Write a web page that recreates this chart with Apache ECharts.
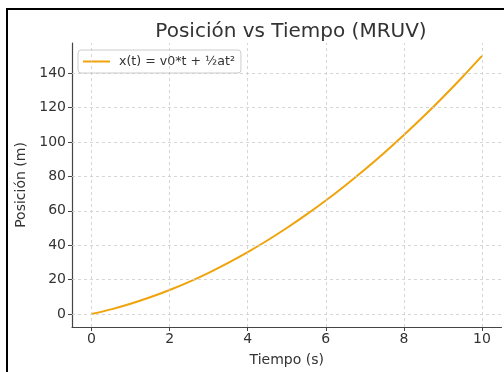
<!DOCTYPE html>
<html>
<head>
<meta charset="utf-8">
<script src="https://cdn.jsdelivr.net/npm/echarts@6/dist/echarts.min.js"></script>
<style>html,body{margin:0;padding:0;background:#fff;}#c{width:504px;height:372px;}</style>
</head>
<body>
<div id="c"></div>
<script>
const seriesName = 'x(t) = v0*t + ½at²';
const times = [0,0.5,1,1.5,2,2.5,3,3.5,4,4.5,5,5.5,6,6.5,7,7.5,8,8.5,9,9.5,10];
const positions = [0,2.75,6,9.75,14,18.75,24,29.75,36,42.75,50,57.75,66,74.75,84,93.75,104,114.75,126,137.75,150];
const xTicks = [0,2,4,6,8,10];
const yTicks = [0,20,40,60,80,100,120,140];

const chart = echarts.init(document.getElementById('c'), null, {renderer:'canvas'});
const font = 'DejaVu Sans';
const gridLine = {color:'#cccccc', width:0.8, type:[3,3]};
chart.setOption({
  animation:false,
  backgroundColor:'#fff',
  title:{text:'Posición vs Tiempo (MRUV)', left:286, textAlign:'center', top:17,
    textStyle:{fontFamily:font, fontSize:20, fontWeight:'normal', color:'#333'}},
  legend:{data:[seriesName], left:78, top:50, orient:'vertical', icon:'rect', itemWidth:27, itemHeight:2, itemGap:4,
    padding:[5,6,5,5], borderColor:'#cccccc', borderWidth:1, borderRadius:3, backgroundColor:'#fff',
    textStyle:{fontFamily:font, fontSize:12.6, color:'#333', padding:[0,0,0,4]}},
  graphic:[{type:'rect', shape:{x:7, y:9, width:600, height:500}, style:{fill:'none', stroke:'#000', lineWidth:2}, z:100}],
  grid:{left:72, right:2.5, top:43, bottom:43, containLabel:false},
  xAxis:{type:'value', min:-0.5, max:10.5, name:'Tiempo (s)', nameLocation:'middle', nameGap:26,
    nameTextStyle:{fontFamily:font, fontSize:14, color:'#333'},
    axisLine:{show:true, onZero:false, lineStyle:{color:'#444', width:1.2}},
    axisTick:{show:true, inside:false, length:4, customValues:xTicks, lineStyle:{color:'#444'}},
    axisLabel:{customValues:xTicks, fontFamily:font, fontSize:14, color:'#333', margin:5},
    splitLine:{show:false}},
  yAxis:{type:'value', min:-7.5, max:157.5, name:'Posición (m)', nameLocation:'middle', nameGap:38,
    nameTextStyle:{fontFamily:font, fontSize:14, color:'#333'},
    axisLine:{show:true, onZero:false, lineStyle:{color:'#444', width:1.2}},
    axisTick:{show:true, inside:false, length:4, customValues:yTicks, lineStyle:{color:'#444'}},
    axisLabel:{customValues:yTicks, fontFamily:font, fontSize:14, color:'#333', margin:6},
    splitLine:{show:false}},
  series:[
    {type:'line', name:'grid', data:[], z:1, silent:true,
      markLine:{silent:true, symbol:'none', label:{show:false}, lineStyle:gridLine, animation:false,
        data:[...xTicks.map(v=>({xAxis:v})), ...yTicks.map(v=>({yAxis:v}))]}},
    {type:'line', name:seriesName, data:times.map((t,i)=>[t,positions[i]]), z:3, symbol:'none', smooth:0.3,
      lineStyle:{color:'#f0a30a', width:2}, itemStyle:{color:'#f0a30a'}}
  ]
});
</script>
</body>
</html>
